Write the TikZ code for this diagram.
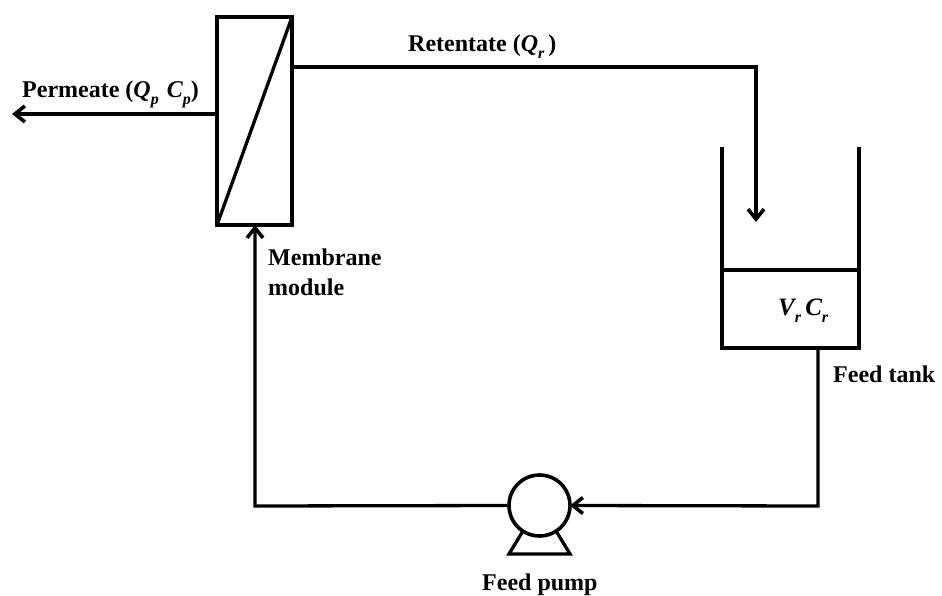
\documentclass[tikz,border=0pt]{standalone}
\usepackage{fontspec}
\setmainfont{Liberation Serif}
\usetikzlibrary{arrows.meta,calc}
\tikzset{
  x=1pt,y=-1pt,
  pipe/.style={line width=3.3pt,line join=miter,color=black},
  flow/.style={pipe,-{Straight Barb[length=10pt,width=16pt,line width=3.6pt]}},
  unit/.style={draw=black,line width=3.6pt,inner sep=0pt,outer sep=0pt},
  lbl/.style={font=\fontsize{24}{28}\selectfont\bfseries,inner sep=0pt,anchor=base west,align=left},
  vals/.style={font=\fontsize{25}{28}\selectfont\bfseries\itshape,inner sep=0pt,anchor=base west}
}
\newcommand{\subs}[1]{\raisebox{-0.28em}{\fontsize{16}{16}\selectfont #1}}
\begin{document}
\begin{tikzpicture}
\useasboundingbox (0,0) rectangle (942,596);
% membrane module
\node[unit,minimum width=75pt,minimum height=208pt] (module) at (254.5,121) {};
\draw[line width=3.3pt] (module.south west) -- (module.north east);
% tank
\node[unit,minimum width=137pt,minimum height=78pt] (liquid) at (790.5,309) {};
\coordinate (tankTL) at (722,147);
\coordinate (tankTR) at (859,147);
\draw[unit] (tankTL) -- (liquid.north west);
\draw[unit] (tankTR) -- (liquid.north east);
% pump
\node[unit,circle,fill=white,minimum size=61pt] (pump) at (539.5,505.5) {};
\coordinate (baseL) at (509,554);
\coordinate (baseR) at (570,554);
\draw[line width=3.3pt,line join=miter] (pump.-123) -- (baseL) -- (baseR) -- (pump.-57);
% connectors
\coordinate (permEnd) at (12,114);
\coordinate (retIn) at (756,222);
\coordinate (outX) at (818,506);
\draw[flow] (module.west |- permEnd) -- (permEnd);
\draw[flow] (module.east |- 0,67) -- (retIn |- 0,67) -- (retIn);
\draw[flow] (818,348) -- (outX) -- (pump.east);
\draw[flow] (pump.west) -- (255,506) -- (module.south -| 255,0);
% labels
\node[lbl] (perm) at (22,98) {Permeate ({\itshape Q\subs{p}\,\,C\subs{p}})};
\node[lbl] (ret) at (408,52) {Retentate ({\itshape Q\subs{r}\,})};
\node[lbl] (modlbl1) at (268,265) {Membrane};
\node[lbl] (modlbl2) at (268,295) {module};
\node[vals] (vc) at (778,315) {V\subs{r}\,C\subs{r}};
\node[lbl] (tanklbl) at (833,382) {Feed tank};
\node[lbl] (pumplbl) at (482,590) {Feed pump};
\end{tikzpicture}
\end{document}
